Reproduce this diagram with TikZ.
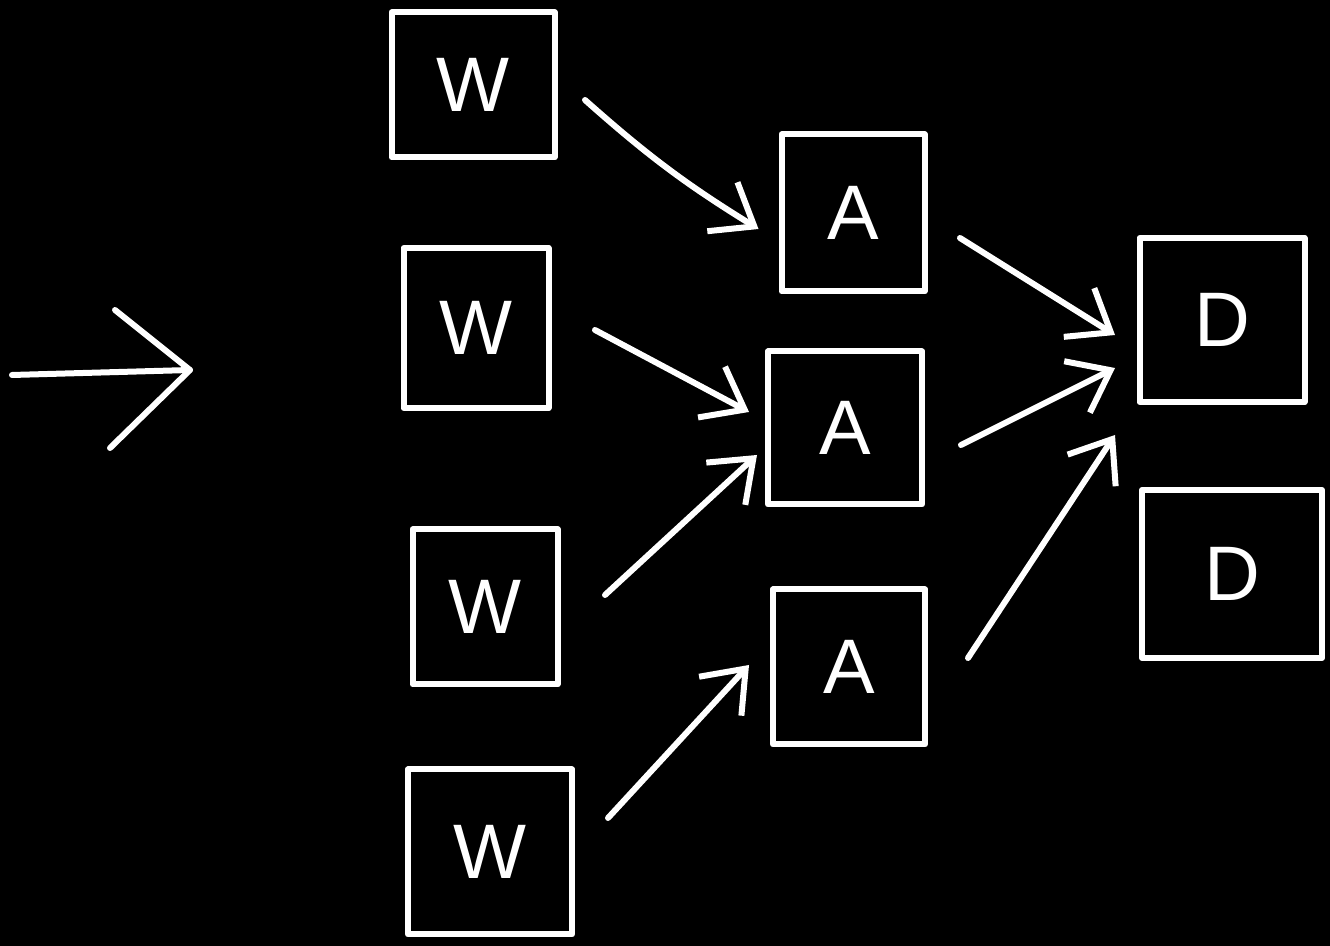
\documentclass[tikz,border=0pt]{standalone}
\usepackage{fontspec}
\setmainfont{Liberation Sans}
\usetikzlibrary{arrows.meta}
\begin{document}
\begin{tikzpicture}[
  chalk/.style={draw=white, line width=0.12cm, line cap=round, line join=round},
  box/.style={chalk, rectangle, inner sep=0pt, text=white, font=\fontsize{44}{48}\selectfont},
  conn/.style={chalk, -{Straight Barb[length=0.75cm,width=1.15cm,line width=0.12cm]}}
]
\fill[black] (0,0) rectangle (26.6,-18.92);
\useasboundingbox (0,0) rectangle (26.6,-18.92);

\node[box, minimum width=3.26cm, minimum height=2.9cm] (W1) at (9.46,-1.70) {W};
\node[box, minimum width=2.9cm, minimum height=3.2cm] (W2) at (9.52,-6.56) {W};
\node[box, minimum width=2.9cm, minimum height=3.1cm] (W3) at (9.70,-12.14) {W};
\node[box, minimum width=3.28cm, minimum height=3.3cm] (W4) at (9.80,-17.04) {W};
\node[box, minimum width=2.86cm, minimum height=3.14cm] (A1) at (17.06,-4.26) {A};
\node[box, minimum width=3.08cm, minimum height=3.06cm] (A2) at (16.90,-8.56) {A};
\node[box, minimum width=3.04cm, minimum height=3.1cm] (A3) at (16.98,-13.34) {A};
\node[box, minimum width=3.3cm, minimum height=3.28cm] (D1) at (24.44,-6.40) {D};
\node[box, minimum width=3.6cm, minimum height=3.36cm] (D2) at (24.64,-11.48) {D};

% left arrow
\coordinate (Ls) at (0.24,-7.5);
\coordinate (Lt) at (3.8,-7.4);
\coordinate (Lu) at (2.3,-6.2);
\coordinate (Ld) at (2.2,-8.96);
\draw[chalk] (Ls) -- (Lt);
\draw[chalk] (Lu) -- (Lt) -- (Ld);

\draw[conn] ([shift={(0.55,-0.30)}]W1.east) to[bend right=5] ([shift={(-0.40,-0.32)}]A1.west);
\draw[conn] ([shift={(0.87,-0.04)}]W2.east) -- ([shift={(-0.32,0.32)}]A2.west);
\draw[conn] ([shift={(0.89,0.24)}]W3.east) -- ([shift={(-0.16,-0.54)}]A2.west);
\draw[conn] ([shift={(0.66,0.68)}]W4.east) -- ([shift={(-0.42,0.04)}]A3.west);
\draw[conn] ([shift={(0.65,-0.50)}]A1.east) -- ([shift={(-0.43,-0.30)}]D1.west);
\draw[conn] ([shift={(0.72,-0.34)}]A2.east) -- ([shift={(-0.43,-0.96)}]D1.west);
\draw[conn] ([shift={(0.80,0.18)}]A3.east) -- ([shift={(-0.43,-2.30)}]D1.west);
\end{tikzpicture}
\end{document}
